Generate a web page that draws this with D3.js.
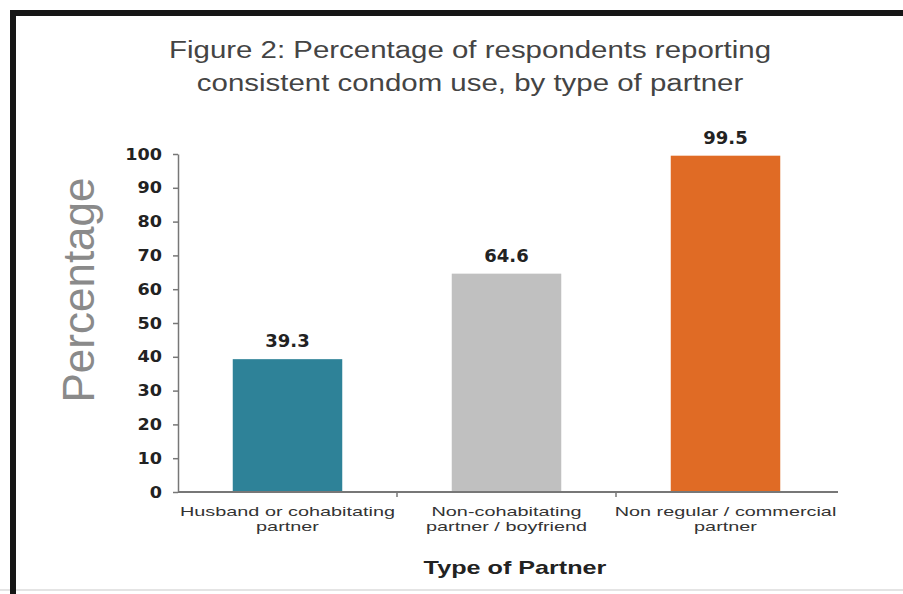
<!DOCTYPE html>
<html>
<head>
<meta charset="utf-8">
<script src="https://cdn.jsdelivr.net/npm/d3@7"></script>
<style>
  body { margin: 0; background: #fff; }
  svg { display: block; }
</style>
</head>
<body>
<script>
// chart data
var categories = [
  ["Husband or cohabitating", "partner"],
  ["Non-cohabitating", "partner / boyfriend"],
  ["Non regular / commercial", "partner"]
];
var values = [39.3, 64.6, 99.5];
var labels = ["39.3", "64.6", "99.5"];
var colors = ["#2e8298", "#c0c0c0", "#e06b25"];
var yTicks = [0, 10, 20, 30, 40, 50, 60, 70, 80, 90, 100];
var titleLines = ["Figure 2: Percentage of respondents reporting", "consistent condom use, by type of partner"];

var width = 903, height = 594;
var margin = {left: 178, right: 68, top: 154, bottom: 102};

var svg = d3.select("body").append("svg")
  .attr("width", width)
  .attr("height", height);

// the source picture is stretched sideways, so text gets a horizontal scale
function wideText(parent, cx, cy, str, size, sx, weight, fill, family) {
  return parent.append("text")
    .attr("transform", "translate(" + cx + "," + cy + ") scale(" + sx + ",1)")
    .attr("text-anchor", "middle")
    .attr("font-family", family || "Liberation Sans, Arial, sans-serif")
    .attr("font-size", size)
    .attr("font-weight", weight || "normal")
    .attr("fill", fill)
    .text(str);
}

// frame
svg.append("rect").attr("x", 0).attr("y", 0).attr("width", width).attr("height", height).attr("fill", "#fff");
svg.append("line").attr("x1", 0).attr("x2", width).attr("y1", 590).attr("y2", 590)
  .attr("stroke", "#e4e4e4").attr("stroke-width", 2);
svg.append("path")
  .attr("d", "M13," + height + " V13 H" + width)
  .attr("fill", "none").attr("stroke", "#161616").attr("stroke-width", 6);

// title
titleLines.forEach(function(t, i) {
  wideText(svg, 470, 58 + i * 33, t, 23, 1.28, "normal", "#444");
});

var x = d3.scaleBand()
  .domain(d3.range(categories.length))
  .range([margin.left, width - margin.right])
  .paddingInner(0.5)
  .paddingOuter(0.25);

var y = d3.scaleLinear()
  .domain([0, 100])
  .range([height - margin.bottom, margin.top]);

// bars
svg.selectAll(".bar").data(values).enter()
  .append("rect")
  .attr("class", "bar")
  .attr("x", function(d, i) { return x(i); })
  .attr("y", function(d) { return y(d); })
  .attr("width", x.bandwidth())
  .attr("height", function(d) { return y(0) - y(d); })
  .attr("fill", function(d, i) { return colors[i]; });

// value labels
values.forEach(function(d, i) {
  wideText(svg, x(i) + x.bandwidth() / 2, y(d) - 12, labels[i], 18, 1, "bold", "#222",
    "DejaVu Sans, Verdana, sans-serif");
});

// y axis
var yAxis = svg.append("g")
  .attr("transform", "translate(" + margin.left + ",0)")
  .call(d3.axisLeft(y).tickValues(yTicks).tickSize(5).tickSizeOuter(0));
yAxis.select(".domain").attr("stroke", "#777").attr("stroke-width", 1.5);
yAxis.selectAll(".tick line").attr("stroke", "#777").attr("stroke-width", 1.5);
yAxis.selectAll(".tick text")
  .attr("x", 0)
  .attr("transform", "translate(-16,0) scale(1.1,1)")
  .attr("font-family", "DejaVu Sans, Verdana, sans-serif")
  .attr("font-weight", "bold")
  .attr("font-size", 16)
  .attr("fill", "#222");

// x axis baseline + separators between categories
svg.append("line")
  .attr("x1", margin.left).attr("x2", 838)
  .attr("y1", y(0)).attr("y2", y(0))
  .attr("stroke", "#777").attr("stroke-width", 2);
var step = x.step();
svg.selectAll(".sep").data([1, 2]).enter()
  .append("line")
  .attr("x1", function(d) { return x(d) - step * 0.25; })
  .attr("x2", function(d) { return x(d) - step * 0.25; })
  .attr("y1", y(0)).attr("y2", y(0) + 5)
  .attr("stroke", "#777").attr("stroke-width", 1.5);

// category labels
categories.forEach(function(lines, i) {
  lines.forEach(function(line, k) {
    wideText(svg, x(i) + x.bandwidth() / 2, y(0) + 24 + k * 15, line, 13.5, 1.47, "normal", "#333");
  });
});

// axis titles
wideText(svg, 515, 574, "Type of Partner", 18, 1.4, "bold", "#222");

svg.append("text")
  .attr("transform", "translate(94,290) rotate(-90)")
  .attr("text-anchor", "middle")
  .attr("font-family", "Liberation Sans, Arial, sans-serif")
  .attr("font-size", 44)
  .attr("fill", "#8a8a8a")
  .text("Percentage");
</script>
</body>
</html>
